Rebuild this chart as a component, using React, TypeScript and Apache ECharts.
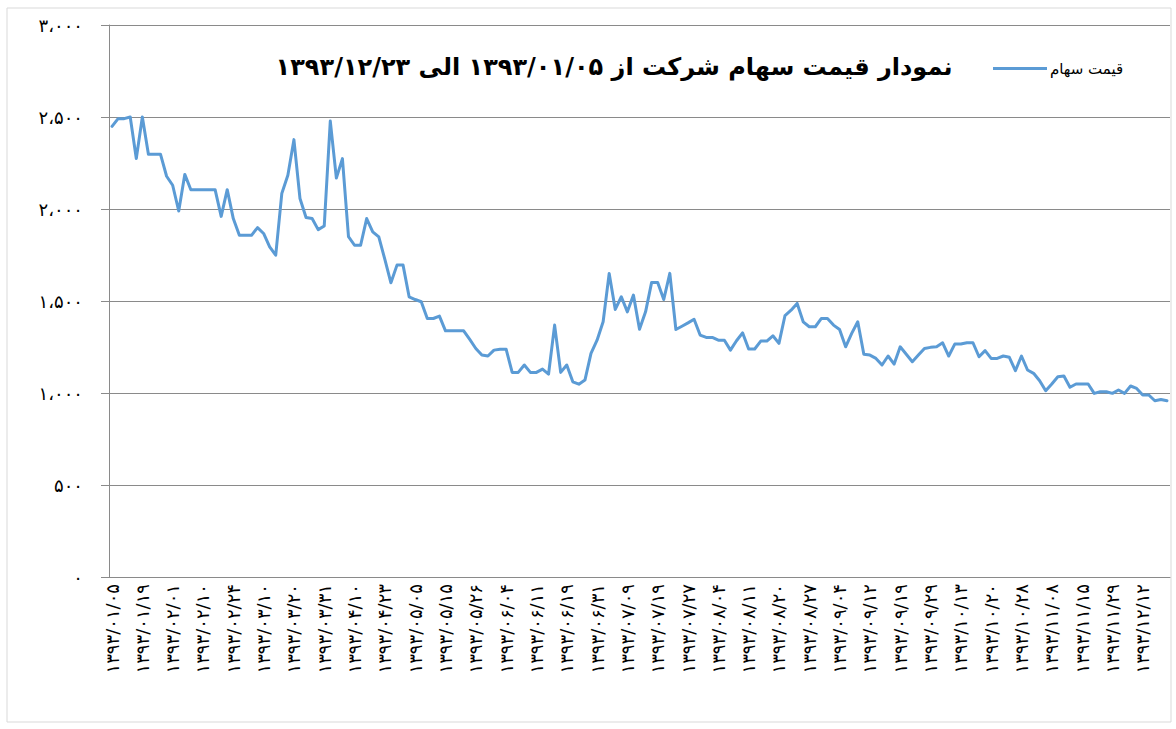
import React, { useEffect, useRef } from 'react';
import * as echarts from 'echarts';

const xLabels = [
  '۱۳۹۳/۰۱/۰۵', '۱۳۹۳/۰۱/۱۹', '۱۳۹۳/۰۲/۰۱', '۱۳۹۳/۰۲/۱۰', '۱۳۹۳/۰۲/۲۴',
  '۱۳۹۳/۰۳/۱۰', '۱۳۹۳/۰۳/۲۰', '۱۳۹۳/۰۳/۳۱', '۱۳۹۳/۰۴/۱۰', '۱۳۹۳/۰۴/۲۳',
  '۱۳۹۳/۰۵/۰۵', '۱۳۹۳/۰۵/۱۵', '۱۳۹۳/۰۵/۲۶', '۱۳۹۳/۰۶/۰۴', '۱۳۹۳/۰۶/۱۱',
  '۱۳۹۳/۰۶/۱۹', '۱۳۹۳/۰۶/۳۱', '۱۳۹۳/۰۷/۰۹', '۱۳۹۳/۰۷/۱۹', '۱۳۹۳/۰۷/۲۷',
  '۱۳۹۳/۰۸/۰۴', '۱۳۹۳/۰۸/۱۱', '۱۳۹۳/۰۸/۲۰', '۱۳۹۳/۰۸/۲۷', '۱۳۹۳/۰۹/۰۴',
  '۱۳۹۳/۰۹/۱۲', '۱۳۹۳/۰۹/۱۹', '۱۳۹۳/۰۹/۲۹', '۱۳۹۳/۱۰/۱۳', '۱۳۹۳/۱۰/۲۰',
  '۱۳۹۳/۱۰/۲۸', '۱۳۹۳/۱۱/۰۸', '۱۳۹۳/۱۱/۱۵', '۱۳۹۳/۱۱/۲۹', '۱۳۹۳/۱۲/۱۲',
];

const prices = [
  2449, 2491, 2491, 2500, 2274, 2500, 2297, 2297, 2297, 2178,
  2129, 1989, 2188, 2105, 2105, 2105, 2105, 2105, 1960, 2105,
  1948, 1857, 1857, 1857, 1899, 1867, 1794, 1749, 2084, 2183,
  2377, 2057, 1954, 1948, 1888, 1908, 2478, 2168, 2274, 1850,
  1803, 1803, 1948, 1876, 1848, 1726, 1599, 1695, 1695, 1523,
  1508, 1496, 1405, 1405, 1418, 1338, 1338, 1338, 1338, 1291,
  1242, 1206, 1201, 1233, 1238, 1238, 1112, 1112, 1152, 1112,
  1112, 1130, 1103, 1369, 1112, 1152, 1061, 1048, 1070, 1215,
  1287, 1387, 1650, 1454, 1523, 1441, 1532, 1347, 1441, 1601,
  1601, 1508, 1650, 1345, 1363, 1381, 1401, 1315, 1302, 1302,
  1287, 1287, 1233, 1284, 1327, 1239, 1239, 1282, 1282, 1311,
  1270, 1421, 1450, 1487, 1387, 1360, 1360, 1405, 1405, 1369,
  1345, 1251, 1324, 1387, 1211, 1206, 1188, 1152, 1201, 1157,
  1251, 1211, 1170, 1206, 1242, 1248, 1251, 1273, 1201, 1266,
  1266, 1273, 1273, 1197, 1230, 1188, 1188, 1201, 1194, 1121,
  1201, 1125, 1107, 1067, 1012, 1049, 1088, 1092, 1031, 1049,
  1049, 1049, 998, 1007, 1007, 998, 1016, 998, 1038, 1025,
  989, 989, 958, 965, 958,
];

const yTickLabels = ['۰', '۵۰۰', '۱،۰۰۰', '۱،۵۰۰', '۲،۰۰۰', '۲،۵۰۰', '۳،۰۰۰'];
const seriesName = 'قیمت سهام';
const titleText = 'نمودار قیمت سهام شرکت از ۱۳۹۳/۰۱/۰۵ الی ۱۳۹۳/۱۲/۲۳';
const LABEL_STEP = 5;
const Y_STEP = 500;

export default function App() {
  const ref = useRef<HTMLDivElement>(null);
  useEffect(() => {
    const chart = echarts.init(ref.current!, null, { renderer: 'svg' });
    const categories = prices.map((_, i) =>
      i % LABEL_STEP === 0 ? xLabels[i / LABEL_STEP] : ''
    );
    const gray = '#8a8a8a';
    chart.setOption({
      animation: false,
      backgroundColor: '#ffffff',
      textStyle: { fontFamily: 'DejaVu Sans' },
      title: {
        text: titleText,
        left: 614,
        top: 55,
        textAlign: 'center',
        padding: 0,
        textStyle: { fontSize: 24, fontWeight: 'bold', color: '#000', fontFamily: 'DejaVu Sans' },
      },
      legend: {
        data: [{ name: seriesName, icon: 'rect' }],
        left: 993,
        top: 61,
        padding: 0,
        itemWidth: 54,
        itemHeight: 3,
        itemGap: 0,
        textStyle: { fontSize: 15, color: '#000', fontFamily: 'DejaVu Sans', padding: [0, 0, 0, -2] },
      },
      grid: { left: 109, right: 6, top: 25, bottom: 152, containLabel: false },
      xAxis: {
        type: 'category',
        data: categories,
        boundaryGap: true,
        axisLine: { lineStyle: { color: gray, width: 1 } },
        axisTick: { interval: 0, length: 5, lineStyle: { color: gray } },
        axisLabel: {
          interval: (i: number) => i % LABEL_STEP === 0,
          rotate: 90,
          fontSize: 18,
          color: '#000',
          margin: 7,
          fontFamily: 'DejaVu Sans',
        },
        splitLine: { show: false },
      },
      yAxis: {
        type: 'value',
        min: 0,
        max: 3000,
        interval: Y_STEP,
        axisLine: { show: true, lineStyle: { color: gray, width: 1 } },
        axisTick: { show: true, length: 8, lineStyle: { color: gray } },
        splitLine: { lineStyle: { color: gray, width: 1 } },
        axisLabel: {
          formatter: (v: number) => yTickLabels[Math.round(v / Y_STEP)],
          fontSize: 18,
          color: '#000',
          margin: 26,
          fontFamily: 'DejaVu Sans',
        },
      },
      series: [
        {
          type: 'line',
          name: seriesName,
          data: prices,
          symbol: 'none',
          lineStyle: { width: 3, color: '#5B9BD5', cap: 'round', join: 'round' },
          itemStyle: { color: '#5B9BD5' },
        },
      ],
      graphic: [
        {
          type: 'rect',
          silent: true,
          z: -1,
          shape: { x: 7, y: 8, width: 1164, height: 714 },
          style: { fill: 'none', stroke: '#d9d9d9', lineWidth: 1 },
        },
      ],
    });
    return () => chart.dispose();
  }, []);
  return (
    <div
      ref={ref}
      style={{ position: 'fixed', left: 0, top: 0, width: 1176, height: 729 }}
    />
  );
}
